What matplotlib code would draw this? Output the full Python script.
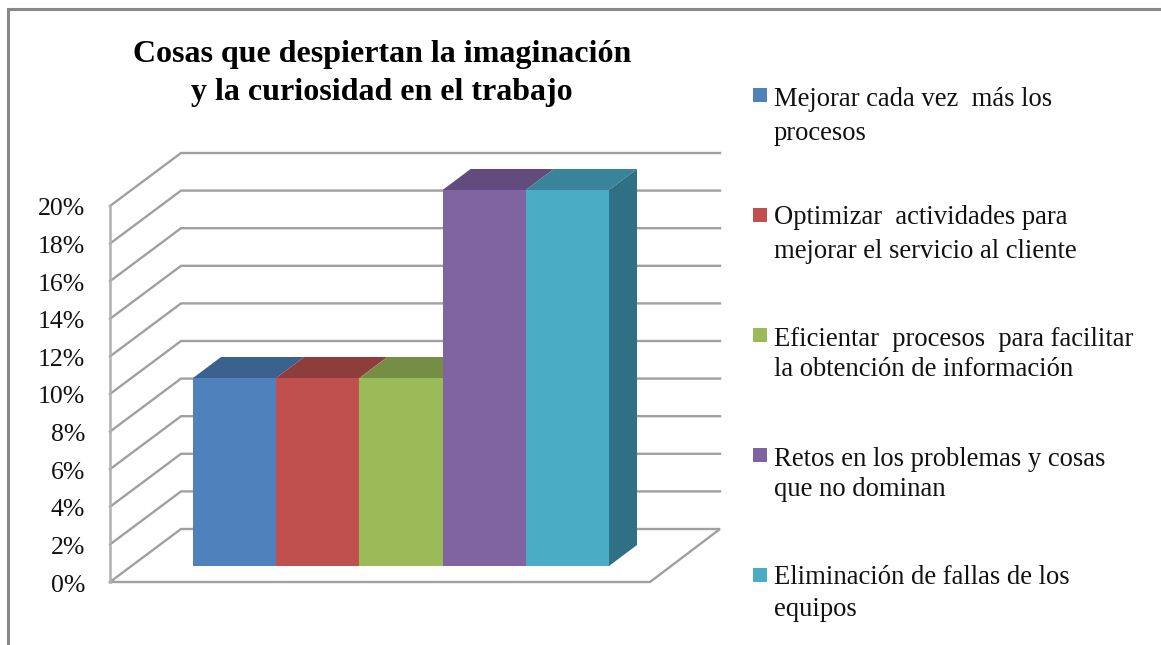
import matplotlib
matplotlib.use('Agg')
import matplotlib.pyplot as plt
from matplotlib.patches import Rectangle

# Data
series = ['Mejorar cada vez  más los\nprocesos',
          'Optimizar  actividades para\nmejorar el servicio al cliente',
          'Eficientar  procesos  para facilitar\nla obtención de información',
          'Retos en los problemas y cosas\nque no dominan',
          'Eliminación de fallas de los\nequipos']
values = [10, 10, 10, 20, 20]
yticks = [0, 2, 4, 6, 8, 10, 12, 14, 16, 18, 20]
title = 'Cosas que despiertan la imaginación\ny la curiosidad en el trabajo'

front_colors = ['#4F81BD', '#C0504D', '#9BBB59', '#8064A2', '#4BACC6']
top_colors = ['#3B618F', '#8F3D3A', '#768E44', '#624C7D', '#39849A']
side_color = '#2F7085'
grid_color = '#A0A0A0'
frame_color = '#888888'

W, H = 1161, 645
plt.rcParams['font.family'] = ['Liberation Serif', 'DejaVu Serif']

fig = plt.figure(figsize=(W / 100, H / 100), dpi=100)

# Scale: one category is 83.2 px wide, 1% is 18.8 px, bars start at px (193, 566)
ux, uy = 83.2, 18.8
x0, y0 = 193, 566
ax = fig.add_axes([0, 0, 1, 1])
ax.set_xlim(-x0 / ux, (W - x0) / ux)
ax.set_ylim((y0 - H) / uy, y0 / uy)
ax.axis('off')

# 3d look: wall and floor offsets in data units
wall_x, wall_y = (110 - x0) / ux, (y0 - 582) / uy
deep_x, deep_y = 71 / ux, 53 / uy
grid_end = (720 - x0) / ux
floor_end = (650 - x0) / ux
bar_dx, bar_dy = 28 / ux, 21 / uy

for v in yticks[1:]:
    ax.plot([wall_x, wall_x + deep_x, grid_end],
            [wall_y + v, wall_y + v + deep_y, wall_y + v + deep_y],
            color=grid_color, lw=1.7, solid_joinstyle='miter', zorder=1)
# floor
ax.plot([wall_x, floor_end, grid_end, wall_x + deep_x, wall_x],
        [wall_y, wall_y, wall_y + deep_y, wall_y + deep_y, wall_y],
        color=grid_color, lw=1.7, solid_joinstyle='miter', zorder=1)
ax.plot([wall_x, wall_x], [wall_y, wall_y + yticks[-1]], color='#B0B0B0', lw=1.8, zorder=1)

for v in yticks:
    ax.text(wall_x - 25 / ux, wall_y + v - 3.5 / uy, f'{v}%', ha='right', va='center',
            fontsize=18.5, color='#111111')

# bars, left to right so each front hides the previous top
for i, v in enumerate(values):
    ax.fill([i, i + 1, i + 1 + bar_dx, i + bar_dx],
            [v, v, v + bar_dy, v + bar_dy], color=top_colors[i], lw=0, zorder=2 + i)
    ax.bar(i, v, width=1, align='edge', color=front_colors[i], lw=0, zorder=2.5 + i)
n = len(values)
ax.fill([n, n + bar_dx, n + bar_dx, n],
        [0, bar_dy, values[-1] + bar_dy, values[-1]], color=side_color, lw=0, zorder=2 + n)

# title
fig.text(382 / W, 1 - 73.5 / H, title, ha='center', va='center', fontsize=23,
         fontweight='bold', linespacing=1.37, color='black')

# legend
legend_y = [116.5, 234.5, 354.5, 474.5, 593.5]
marker_y = [95, 215, 335, 455, 575]
line_gap = [1.46, 1.46, 1.29, 1.29, 1.38]
for name, c, ly, my, gap in zip(series, front_colors, legend_y, marker_y, line_gap):
    fig.patches.append(Rectangle((753 / W, 1 - (my + 7) / H), 14 / W, 14 / H,
                                 transform=fig.transFigure, color=c, lw=0))
    fig.text(774 / W, 1 - ly / H, name, ha='left', va='center', fontsize=19.2,
             linespacing=gap, color='#111111')

# outer frame, only top and left are visible
fig.add_artist(plt.Line2D([8 / W, 8 / W, 1], [0, 1 - 8.5 / H, 1 - 8.5 / H],
                          color=frame_color, lw=2.2, solid_joinstyle='miter'))

fig.savefig('out.png', dpi=100)
